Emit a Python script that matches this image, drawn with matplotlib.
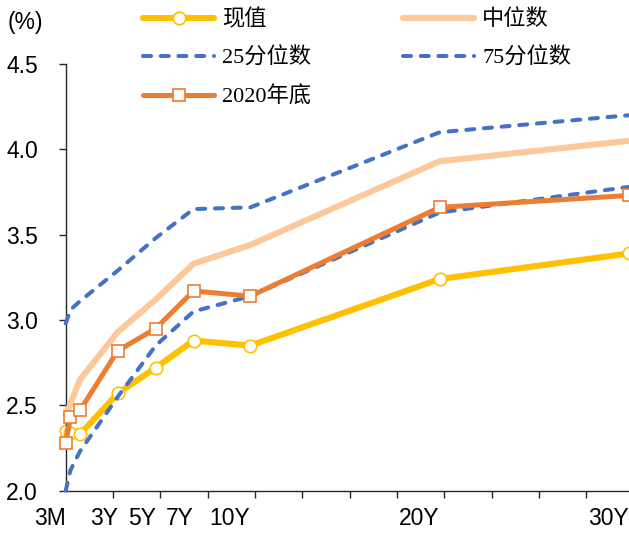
import matplotlib
matplotlib.use("Agg")
import matplotlib.pyplot as plt
from matplotlib.ticker import FixedLocator

# Tenors in years and their axis labels
tenors = [0.25, 0.5, 1, 3, 5, 7, 10, 20, 30]
label_tenors = [0.25, 3, 5, 7, 10, 20, 30]
tick_labels = ["3M", "3Y", "5Y", "7Y", "10Y", "20Y", "30Y"]

# Yield curves (%)
current = [2.35, 2.34, 2.33, 2.57, 2.72, 2.88, 2.85, 3.24, 3.39]
median = [2.44, 2.51, 2.65, 2.93, 3.12, 3.33, 3.44, 3.93, 4.05]
p25 = [2.00, 2.12, 2.23, 2.55, 2.85, 3.05, 3.14, 3.63, 3.78]
p75 = [2.98, 3.06, 3.11, 3.29, 3.48, 3.65, 3.66, 4.10, 4.20]
end2020 = [2.28, 2.43, 2.47, 2.82, 2.95, 3.17, 3.14, 3.66, 3.73]

series_names = ["现值", "中位数", "25分位数", "75分位数", "2020年底"]

YELLOW = "#FFC000"
PEACH = "#FDC99B"
BLUE = "#4472C4"
ORANGE = "#ED7D31"

W, H = 629, 533
fig = plt.figure(figsize=(W / 100, H / 100), dpi=100)
ax = fig.add_axes([65.7 / W, 1 - 490.7 / H, (W - 65.7) / W, (490.7 - 64) / H])

dash = (0, (2.0, 2.4))

h_cur, = ax.plot(tenors, current, color=YELLOW, lw=4.4, marker="o", ms=9,
                 mfc="white", mec=YELLOW, mew=1.2, clip_on=False,
                 solid_capstyle="round", label=series_names[0], zorder=2)
h_med, = ax.plot(tenors, median, color=PEACH, lw=4.4, clip_on=False,
                 solid_capstyle="round", label=series_names[1], zorder=3)
h_25, = ax.plot(tenors, p25, color=BLUE, lw=2.9, ls=dash, clip_on=False,
                dash_capstyle="round", label=series_names[2], zorder=4)
h_75, = ax.plot(tenors, p75, color=BLUE, lw=2.9, ls=dash, clip_on=False,
                dash_capstyle="round", label=series_names[3], zorder=4)
h_end, = ax.plot(tenors, end2020, color=ORANGE, lw=3.6, marker="s", ms=8.5,
                 mfc="white", mec=ORANGE, mew=1.2, clip_on=False,
                 solid_capstyle="round", label=series_names[4], zorder=5)

ax.set_xlim(0.25, 30)
ax.set_ylim(2.0, 4.5)

for s in ["top", "right"]:
    ax.spines[s].set_visible(False)
for s in ["left", "bottom"]:
    ax.spines[s].set_color("#262626")
    ax.spines[s].set_linewidth(1.0)

tick_font = dict(family=["Liberation Sans", "DejaVu Sans"], size=16.5)

# y axis
yt = [2.0, 2.5, 3.0, 3.5, 4.0, 4.5]
ax.set_yticks(yt)
ax.set_yticklabels([f"{v:.1f}" for v in yt], **tick_font)
ax.tick_params(axis="y", direction="out", length=5, width=1.0,
               color="#262626", pad=15)

# x axis: labels right-aligned at tenor, marks every 2.5 years
ax.set_xticks(label_tenors)
ax.set_xticklabels(tick_labels, ha="right", **tick_font)
ax.tick_params(axis="x", which="major", length=0, pad=12)
ax.xaxis.set_minor_locator(FixedLocator([0.25 + 2.5 * k for k in range(12)]))
ax.tick_params(axis="x", which="minor", direction="out", length=5,
               width=1.0, color="#262626")

fig.text(8 / W, 1 - 23 / H, "(%)", ha="left", va="center", **tick_font)

leg = fig.legend(handles=[h_cur, h_25, h_end, h_med, h_75], ncol=2,
                 loc="upper left", bbox_to_anchor=(143 / W, 1 - 9 / H),
                 frameon=False, borderpad=0, borderaxespad=0,
                 handlelength=3.2, handletextpad=0.35, columnspacing=4.15,
                 labelspacing=0.8,
                 prop=dict(family=["Liberation Serif", "Noto Sans CJK SC"],
                           size=16))

fig.savefig("out.png", dpi=100)
